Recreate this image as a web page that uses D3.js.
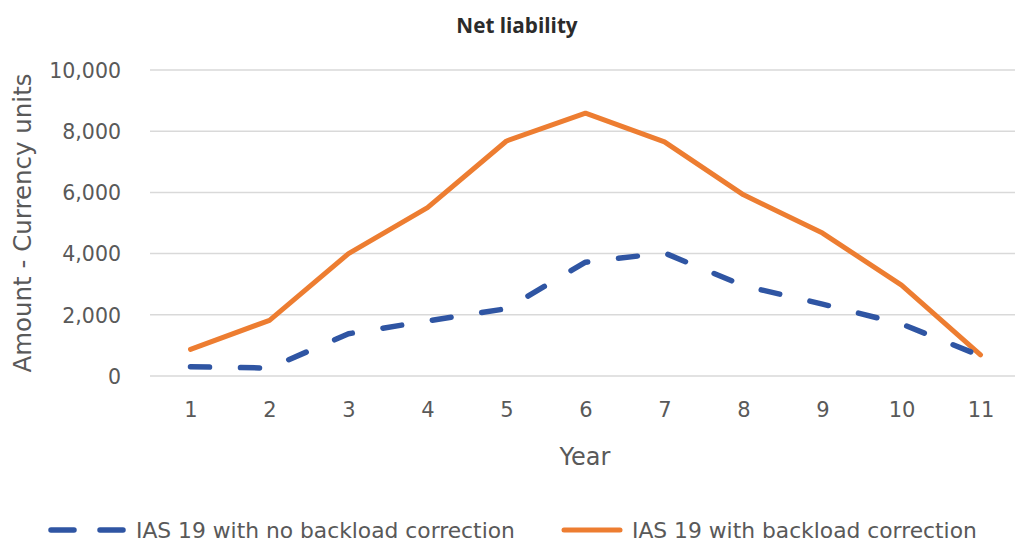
<!DOCTYPE html>
<html><head><meta charset="utf-8">
<script src="https://cdn.jsdelivr.net/npm/d3@7/dist/d3.min.js"></script>
<style>
body{margin:0;background:#fff;}
svg{display:block;}
text{font-family:"DejaVu Sans",sans-serif;fill:#595959;}
</style></head><body>
<svg id="chart" width="1015" height="545"></svg>
<script>
const years = ["1","2","3","4","5","6","7","8","9","10","11"];
const noCorrection = [300, 260, 1380, 1800, 2200, 3720, 4020, 2950, 2350, 1700, 660];
const withCorrection = [870, 1820, 4000, 5500, 7680, 8590, 7650, 5920, 4670, 2970, 690];
const yTicks = [0, 2000, 4000, 6000, 8000, 10000];
const seriesNames = ["IAS 19 with no backload correction", "IAS 19 with backload correction"];
const colors = ["#2F55A3", "#ED7D31"];

const svg = d3.select("#chart");
const x = d3.scalePoint().domain(years).range([151, 1020]).padding(0.5);
const y = d3.scaleLinear().domain([0, 10000]).range([376, 70]);

// gridlines
svg.append("g").selectAll("line").data(yTicks).join("line")
  .attr("x1", 150).attr("x2", 1015)
  .attr("y1", d => y(d)).attr("y2", d => y(d))
  .attr("stroke", "#d9d9d9").attr("stroke-width", 1.5);

const ff = '"DejaVu Sans",sans-serif';

// y axis labels
const yAxis = d3.axisLeft(y).tickValues(yTicks).tickFormat(d3.format(",")).tickSize(0).tickPadding(0);
const gy = svg.append("g").attr("transform", "translate(121,0)").call(yAxis);
gy.select(".domain").remove();
gy.selectAll("text").attr("font-size", 20.5).attr("fill", "#595959").attr("dy", "0.36em")
  .style("font-family", ff);

// x axis labels
const xAxis = d3.axisBottom(x).tickSize(0).tickPadding(0);
const gx = svg.append("g").call(xAxis);
gx.select(".domain").remove();
gx.selectAll("text").attr("font-size", 21).attr("fill", "#595959").attr("y", 417).attr("dy", 0)
  .style("font-family", ff);

// title
svg.append("text").attr("x", 517).attr("y", 33).attr("text-anchor", "middle")
  .attr("font-size", 20.7).attr("font-weight", "bold").style("fill", "#2b2b2b")
  .style("font-family", '"Open Sans","DejaVu Sans",sans-serif')
  .text("Net liability");

// axis titles
svg.append("text").attr("x", 585).attr("y", 465).attr("text-anchor", "middle")
  .attr("font-size", 24).text("Year");
svg.append("text").attr("transform", "translate(31,223) rotate(-90)").attr("text-anchor", "middle")
  .attr("font-size", 24.5).text("Amount - Currency units");

const line = d3.line().x((d, i) => x(years[i])).y(d => y(d));

svg.append("path").datum(withCorrection).attr("d", line)
  .attr("fill", "none").attr("stroke", colors[1]).attr("stroke-width", 5)
  .attr("stroke-linejoin", "round").attr("stroke-linecap", "round");

svg.append("path").datum(noCorrection).attr("d", line)
  .attr("fill", "none").attr("stroke", colors[0]).attr("stroke-width", 5.5)
  .attr("stroke-dasharray", "19,31").attr("stroke-linecap", "round").attr("stroke-linejoin", "round");

// legend
const lg = svg.append("g");
lg.append("line").attr("x1", 51).attr("x2", 123).attr("y1", 530).attr("y2", 530)
  .attr("stroke", colors[0]).attr("stroke-width", 5.5).attr("stroke-dasharray", "23,26")
  .attr("stroke-linecap", "round");
lg.append("text").attr("x", 136).attr("y", 538).attr("font-size", 21.8).text(seriesNames[0]);
lg.append("line").attr("x1", 564).attr("x2", 620).attr("y1", 530).attr("y2", 530)
  .attr("stroke", colors[1]).attr("stroke-width", 5).attr("stroke-linecap", "round");
lg.append("text").attr("x", 632).attr("y", 538).attr("font-size", 21.8).text(seriesNames[1]);
</script>
</body></html>
